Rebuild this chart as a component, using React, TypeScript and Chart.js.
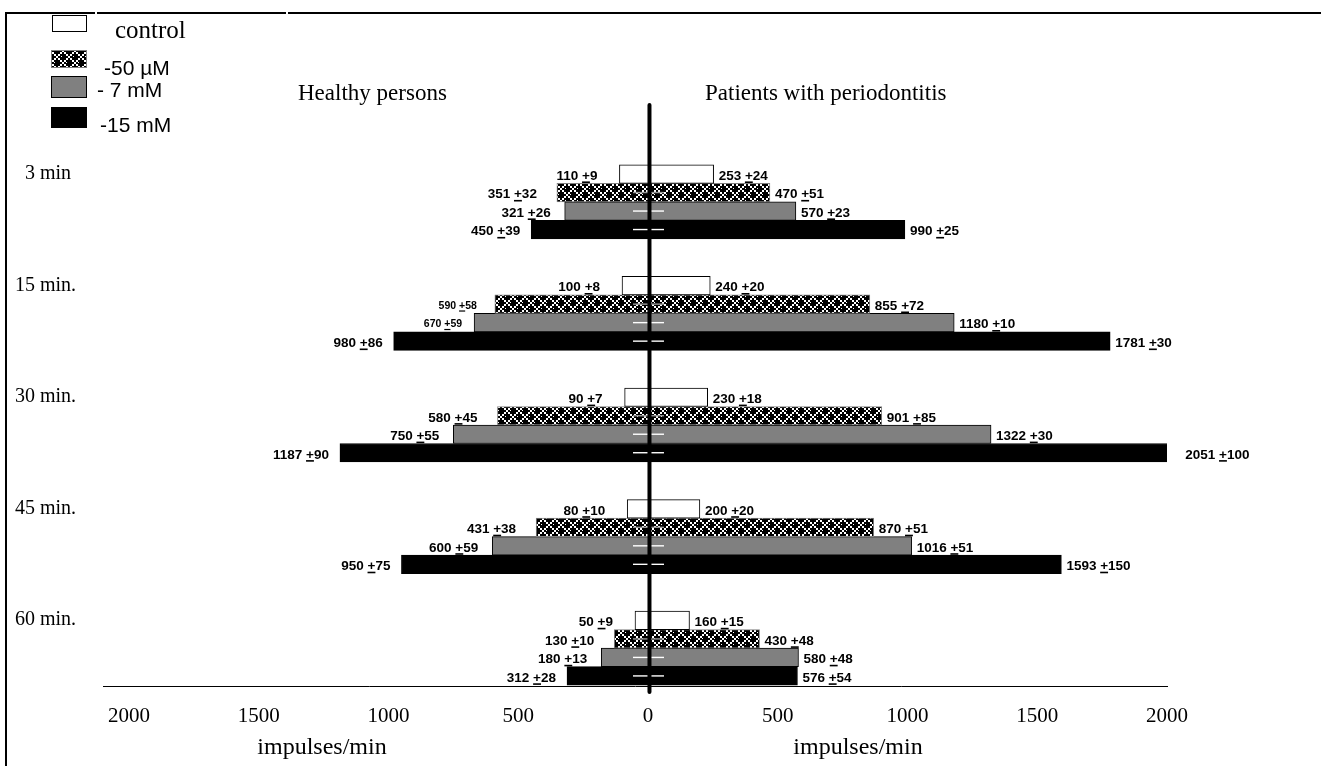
import React, { useEffect, useRef } from "react";
import { Chart, registerables } from "chart.js";

Chart.register(...registerables);

// ---- data ----
const CATEGORIES = ["  3 min", "15 min.", "30 min.", "45 min.", "60 min."];
const SERIES = ["control", "-50 µM", "- 7 mM", "-15 mM"];

// Healthy persons (drawn to the left), impulses/min
const HEALTHY_CONTROL = [110, 100, 90, 80, 50];
const HEALTHY_50UM = [351, 590, 580, 431, 130];
const HEALTHY_7MM = [321, 670, 750, 600, 180];
const HEALTHY_15MM = [450, 980, 1187, 950, 312];
const HEALTHY_CONTROL_SD = [9, 8, 7, 10, 9];
const HEALTHY_50UM_SD = [32, 58, 45, 38, 10];
const HEALTHY_7MM_SD = [26, 59, 55, 59, 13];
const HEALTHY_15MM_SD = [39, 86, 90, 75, 28];

// Patients with periodontitis (drawn to the right), impulses/min
const PATIENT_CONTROL = [253, 240, 230, 200, 160];
const PATIENT_50UM = [470, 855, 901, 870, 430];
const PATIENT_7MM = [570, 1180, 1322, 1016, 580];
const PATIENT_15MM = [990, 1781, 2051, 1593, 576];
const PATIENT_CONTROL_SD = [24, 20, 18, 20, 15];
const PATIENT_50UM_SD = [51, 72, 85, 51, 48];
const PATIENT_7MM_SD = [23, 10, 30, 51, 48];
const PATIENT_15MM_SD = [25, 30, 100, 150, 54];

const X_TICKS = [-2000, -1500, -1000, -500, 0, 500, 1000, 1500, 2000];

const HEALTHY = [HEALTHY_CONTROL, HEALTHY_50UM, HEALTHY_7MM, HEALTHY_15MM];
const HEALTHY_SD = [HEALTHY_CONTROL_SD, HEALTHY_50UM_SD, HEALTHY_7MM_SD, HEALTHY_15MM_SD];
const PATIENT = [PATIENT_CONTROL, PATIENT_50UM, PATIENT_7MM, PATIENT_15MM];
const PATIENT_SD = [PATIENT_CONTROL_SD, PATIENT_50UM_SD, PATIENT_7MM_SD, PATIENT_15MM_SD];

// ---- styles ----
const SERIF = '"Liberation Serif", "Times New Roman", serif';
const SANS = '"Liberation Sans", Arial, sans-serif';
const LEFT_GAP = [22, 20, 14, 11];
const SMALL_LEFT = [[], [1], [1], []]; // category indices whose left label is printed small

const TILE = [
  "..##..######",
  "..##..######",
  "##..##.#####",
  "##..########",
  "..##..######",
  "..##..######",
  "######..##..",
  "######..##..",
  "#.######..##",
  "########..##",
  "######..##..",
  "######..##..",
];

function makePattern(ctx: CanvasRenderingContext2D) {
  const c = document.createElement("canvas");
  c.width = TILE[0].length;
  c.height = TILE.length;
  const g = c.getContext("2d")!;
  g.fillStyle = "#fff";
  g.fillRect(0, 0, c.width, c.height);
  g.fillStyle = "#000";
  TILE.forEach((row, y) => {
    for (let x = 0; x < row.length; x++) if (row[x] === "#") g.fillRect(x, y, 1, 1);
  });
  return ctx.createPattern(c, "repeat")!;
}

function drawPm(
  ctx: CanvasRenderingContext2D,
  x: number,
  y: number,
  value: number,
  sd: number,
  align: "left" | "right",
  size: number
) {
  ctx.font = `bold ${size}px ${SANS}`;
  ctx.textAlign = "left";
  ctx.textBaseline = "alphabetic";
  ctx.fillStyle = "#000";
  const a = `${value} `;
  const p = "+";
  const b = `${sd}`;
  const wa = ctx.measureText(a).width;
  const wp = ctx.measureText(p).width;
  const wb = ctx.measureText(b).width;
  const total = wa + wp + wb;
  const x0 = align === "right" ? x - total : x;
  const base = y + size * 0.36;
  ctx.fillText(a, x0, base);
  ctx.fillText(p, x0 + wa, base);
  ctx.fillText(b, x0 + wa + wp, base);
  ctx.fillRect(x0 + wa, base + 1.5, wp, size > 11 ? 1.6 : 1.2);
}

export default function App() {
  const ref = useRef<HTMLCanvasElement | null>(null);

  useEffect(() => {
    const canvas = ref.current!;
    const ctx0 = canvas.getContext("2d")!;
    const pattern = makePattern(ctx0);
    const fills: (string | CanvasPattern)[] = ["#ffffff", pattern, "#808080", "#000000"];
    const borders = ["#000000", "#808080", "#000000", "#000000"];

    const overlay = {
      id: "overlay",
      afterDraw(chart: any) {
        const ctx: CanvasRenderingContext2D = chart.ctx;
        const xs = chart.scales.x;
        const x0 = xs.getPixelForValue(0);
        ctx.save();

        // white dashes through the middle of the bars
        for (let d = 1; d < 4; d++) {
          const meta = chart.getDatasetMeta(d);
          meta.data.forEach((el: any) => {
            const { y } = el.getProps(["y"], true);
            ctx.strokeStyle = d === 1 ? "#9a9a9a" : "#ffffff";
            ctx.lineWidth = 1.4;
            ctx.beginPath();
            ctx.moveTo(x0 - 15, y);
            ctx.lineTo(x0 + 16, y);
            ctx.stroke();
          });
        }

        // bar value labels
        for (let d = 0; d < 4; d++) {
          const meta = chart.getDatasetMeta(d);
          meta.data.forEach((el: any, i: number) => {
            const { x, base, y } = el.getProps(["x", "base", "y"], true);
            const left = Math.min(x, base);
            const right = Math.max(x, base);
            const small = SMALL_LEFT[d].includes(i);
            drawPm(ctx, left - LEFT_GAP[d] + (small ? 2 : 0), y + 1, HEALTHY[d][i], HEALTHY_SD[d][i], "right", small ? 10.5 : 13.5);
            drawPm(ctx, right + 5, y + 1, PATIENT[d][i], PATIENT_SD[d][i], "left", 13.5);
          });
        }

        // central axis
        ctx.strokeStyle = "#000";
        ctx.lineWidth = 4;
        ctx.lineCap = "round";
        ctx.beginPath();
        ctx.moveTo(x0 + 1.5, 105);
        ctx.lineTo(x0 + 1.5, 692);
        ctx.stroke();

        // frame lines
        ctx.lineCap = "butt";
        ctx.fillStyle = "#000";
        ctx.fillRect(5, 12, 90, 2);
        ctx.fillRect(97, 12, 189, 2);
        ctx.fillRect(288, 12, 1033, 2);
        ctx.fillRect(5, 12, 2, 754);

        // group titles
        ctx.font = `23px ${SERIF}`;
        ctx.textAlign = "left";
        ctx.textBaseline = "alphabetic";
        ctx.fillText("Healthy persons", 298, 100);
        ctx.fillText("Patients with periodontitis", 705, 100);

        // axis titles
        ctx.font = `24px ${SERIF}`;
        ctx.textAlign = "center";
        ctx.fillText("impulses/min", 322, 754);
        ctx.fillText("impulses/min", 858, 754);

        // legend
        const boxes = [
          [52, 15, 35, 17],
          [51, 50, 36, 18],
          [51, 76, 36, 22],
          [51, 107, 36, 21],
        ];
        boxes.forEach((b, d) => {
          ctx.fillStyle = fills[d] as any;
          ctx.fillRect(b[0], b[1], b[2], b[3]);
          ctx.strokeStyle = borders[d];
          ctx.lineWidth = 1;
          ctx.strokeRect(b[0] + 0.5, b[1] + 0.5, b[2] - 1, b[3] - 1);
        });
        ctx.fillStyle = "#000";
        ctx.textAlign = "left";
        ctx.font = `25px ${SERIF}`;
        ctx.fillText(SERIES[0], 115, 38);
        ctx.font = `21px ${SANS}`;
        ctx.fillText(SERIES[1], 104, 75);
        ctx.fillText(SERIES[2], 97, 97);
        ctx.fillText(SERIES[3], 100, 132);

        ctx.restore();
      },
    };

    const chart = new Chart(canvas, {
      type: "bar",
      data: {
        datasets: SERIES.map((name, d) => ({
          label: name,
          data: CATEGORIES.map((_, i) => ({ y: i, x: [-HEALTHY[d][i], PATIENT[d][i]] })),
          backgroundColor: fills[d],
          borderColor: borders[d],
          borderWidth: 1,
          borderSkipped: false,
          barThickness: 18.5,
        })) as any,
      },
      options: {
        indexAxis: "y",
        animation: false,
        responsive: false,
        layout: { padding: { top: 146, left: 15, right: 154, bottom: 0 } },
        plugins: { legend: { display: false }, tooltip: { enabled: false } },
        scales: {
          x: {
            type: "linear",
            min: -2100,
            max: 2000,
            offset: false,
            grid: { display: false, drawTicks: false },
            border: { display: true, color: "#000", width: 1 },
            afterBuildTicks: (s: any) => {
              s.ticks = X_TICKS.map((v) => ({ value: v }));
            },
            afterFit: (s: any) => {
              s.height = 80;
            },
            ticks: {
              color: "#000",
              padding: 18,
              maxRotation: 0,
              autoSkip: false,
              font: { family: SERIF, size: 21 },
              callback: (v: any) => String(Math.abs(Number(v))),
            },
          },
          y: {
            type: "linear",
            reverse: true,
            offset: false,
            min: -0.5,
            max: 4.339,
            grid: { display: false, drawTicks: false, offset: false },
            border: { display: false },
            afterBuildTicks: (s: any) => {
              s.ticks = CATEGORIES.map((_, i) => ({ value: i }));
            },
            afterFit: (s: any) => {
              s.width = 88;
            },
            ticks: {
              color: "#000",
              crossAlign: "far",
              labelOffset: -28,
              autoSkip: false,
              font: { family: SERIF, size: 20 },
              callback: (v: any) => CATEGORIES[Number(v)] ?? "",
            },
          },
        },
      } as any,
      plugins: [overlay],
    });

    return () => chart.destroy();
  }, []);

  return (
    <div style={{ position: "fixed", left: 0, top: 0, width: 1321, height: 766, background: "#fff" }}>
      <canvas ref={ref} width={1321} height={766} style={{ display: "block" }} />
    </div>
  );
}
